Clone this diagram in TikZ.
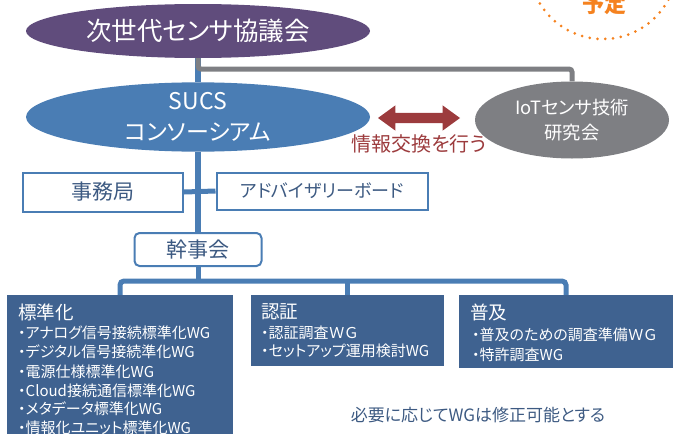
\documentclass[tikz,border=0pt]{standalone}
\usepackage{fontspec}
\setmainfont{Noto Sans CJK JP}[RawFeature={+palt}]
\usetikzlibrary{shapes.geometric,shapes.arrows}
\definecolor{cpurple}{HTML}{604C7C}
\definecolor{cblue}{HTML}{4A7DB4}
\definecolor{cgray}{HTML}{7E7F83}
\definecolor{cdark}{HTML}{3F6290}
\definecolor{cred}{HTML}{9C3B3D}
\definecolor{corange}{HTML}{F5821F}
\definecolor{ctext}{HTML}{3D5A82}
\tikzset{
  ell/.style={ellipse, inner sep=0pt, text=white, align=center},
  whitebox/.style={draw=cblue, line width=2pt, fill=white, text=ctext, inner sep=0pt},
  darkbox/.style={fill=cdark, inner sep=0pt},
  headtxt/.style={text=white, anchor=west, inner sep=0pt, font=\fontsize{18.5}{18.5}\selectfont},
  itemtxt/.style={text=white, anchor=west, inner sep=0pt, font=\fontsize{15}{15}\selectfont},
  blueline/.style={draw=cblue, line width=5pt},
  trunkline/.style={draw=cblue, line width=6pt},
  grayline/.style={draw=cgray, line width=5pt},
}
\begin{document}
\begin{tikzpicture}[x=1pt,y=-1pt]
\useasboundingbox (0,0) rectangle (675,442);
\clip (0,0) rectangle (675,442);
% orange dotted circle
\draw[corange, line width=3pt, line cap=round, dash pattern=on 0pt off 7.8pt] (603,-35) circle[radius=74pt];
\node[text=corange, anchor=base, inner sep=0pt, font=\fontsize{22}{22}\selectfont\bfseries] (yotei) at (604,12) {予定};
% ellipses
\node[ell, fill=cpurple, minimum width=344pt, minimum height=54pt, font=\fontsize{25.5}{25.5}\selectfont] (council) at (198,31) {次世代センサ協議会};
\node[ell, fill=cblue, minimum width=344pt, minimum height=66pt, font=\fontsize{23}{31}\selectfont] (sucs) at (198,117) {SUCS\\コンソーシアム};
\node[ell, fill=cgray, minimum width=194pt, minimum height=77pt, font=\fontsize{18.3}{25}\selectfont] (iot) at (572,120) {IoTセンサ技術\\研究会};
% exchange arrow
\node[double arrow, fill=cred, inner xsep=0pt, inner ysep=5pt, double arrow head extend=7.5pt, double arrow tip angle=72, minimum height=82pt] (xarrow) at (419,118) {};
\node[text=cred, inner sep=0pt, font=\fontsize{20}{20}\selectfont] (xlabel) at (419,144) {情報交換を行う};
% white boxes
\node[whitebox, minimum width=160pt, minimum height=39pt, font=\fontsize{21}{21}\selectfont] (jimu) at (103,192) {事務局};
\node[whitebox, minimum width=211pt, minimum height=37pt, font=\fontsize{18}{18}\selectfont] (adv) at (322,191) {アドバイザリーボード};
\node[whitebox, rounded corners=5pt, minimum width=127pt, minimum height=33pt, font=\fontsize{21}{21}\selectfont] (kanji) at (198,249.5) {幹事会};
% dark boxes
\node[darkbox, minimum width=226pt, minimum height=139pt] (std) at (120,364.5) {};
\node[darkbox, minimum width=193pt, minimum height=71pt] (nin) at (347.5,330.5) {};
\node[darkbox, minimum width=214pt, minimum height=73pt] (fuk) at (566,331.5) {};
% connectors
\draw[trunkline] (council.south) -- (sucs.north);
\coordinate (gj) at (198,69);
\draw[grayline, rounded corners=3pt] (council.south) -- (gj) -| (iot.north);
\draw[trunkline] (sucs.south) -- (kanji.north);
\draw[blueline] (jimu.east) -- (adv.west);
\coordinate (bus) at (198,281);
\draw[blueline] (kanji.south) -- (bus);
\draw[blueline, rounded corners=4pt] (std.north) -- (std.north |- bus) -- (fuk.north |- bus) -- (fuk.north);
\draw[blueline] (nin.north) -- (nin.north |- bus);
% texts in dark boxes
\node[headtxt] (stdh) at (18,312) {標準化};
\node[itemtxt] (s1) at (18,333) {・アナログ信号接続標準化WG};
\node[itemtxt] (s2) at (18,352) {・デジタル信号接続準化WG};
\node[itemtxt] (s3) at (18,372) {・電源仕様標準化WG};
\node[itemtxt] (s4) at (18,391) {・Cloud接続通信標準化WG};
\node[itemtxt] (s5) at (18,409) {・メタデータ標準化WG};
\node[itemtxt] (s6) at (18,428) {・情報化ユニット標準化WG};
\node[headtxt] (ninh) at (261,312) {認証};
\node[itemtxt] (n1) at (261,333) {・認証調査ＷＧ};
\node[itemtxt] (n2) at (261,351) {・セットアップ運用検討WG};
\node[headtxt] (fukh) at (470,312) {普及};
\node[itemtxt] (f1) at (472,335) {・普及のための調査準備ＷＧ};
\node[itemtxt] (f2) at (472,355) {・特許調査WG};
% note
\node[text=ctext, inner sep=0pt, font=\fontsize{17}{17}\selectfont] (note) at (478,415) {必要に応じてWGは修正可能とする};
\end{tikzpicture}
\end{document}
